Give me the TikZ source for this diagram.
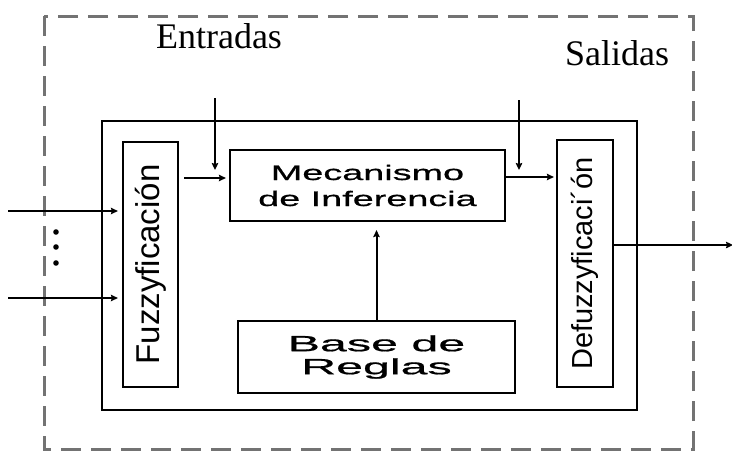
\documentclass[tikz,border=0pt]{standalone}
\usepackage{fontspec}
\usepackage{xcolor}
\usepackage{tikz}
\usetikzlibrary{positioning, arrows.meta}
\setmainfont{Liberation Serif}
\setsansfont{Liberation Sans}
\newfontfamily\wideA[FakeStretch=1.8, FakeBold=0.8]{Liberation Sans}
\newfontfamily\wideB[FakeStretch=2.2, FakeBold=0.8]{Liberation Sans}
\definecolor{dashgray}{gray}{0.45}

\begin{document}
\begin{tikzpicture}[x=1pt, y=-1pt, >={Stealth[length=7pt, width=6.5pt, inset=1pt]}]
            \tikzstyle{block} = [draw=black, line width=2.2pt, inner sep=0pt];
            \tikzstyle{wire} = [line width=2pt];
            \tikzstyle{heading} = [anchor=base, font=\fontsize{36}{40}\selectfont];
            \useasboundingbox (0,0) rectangle (732,451);

            \draw [dashgray, line width=3pt, dash pattern=on 20pt off 10pt] (44,16) rectangle (693,449);
            \draw [line width=2.2pt] (102,121) rectangle (637,410);

            \node [heading] (E) at (219,48) {Entradas};
            \node [heading] (S) at (617,65) {Salidas};

            \node [block, minimum width=55pt, minimum height=245pt] (fuzz) at (150.5,264.5) {};
            \node [rotate=90, font=\sffamily\fontsize{33}{36}\selectfont] (fuzzT) at (fuzz) {Fuzzyficación};

            \node [block, minimum width=275pt, minimum height=71pt, align=center,
                   font=\wideA\fontsize{21}{26}\selectfont] (inf) at (367.5,185.5) {Mecanismo\\de Inferencia};

            \node [block, minimum width=56pt, minimum height=247pt] (defuzz) at (585,263.5) {};
            \node [rotate=90, font=\sffamily\fontsize{29}{32}\selectfont] (defuzzT) at (defuzz) {Defuzzyficaci´ón};

            \node [block, minimum width=277pt, minimum height=72pt, align=center,
                   font=\wideB\fontsize{22}{23}\selectfont] (rules) at (376.5,357) {Base de\\Reglas};

            \coordinate (in1) at (8,211);
            \coordinate (in2) at (8,298);
            \coordinate (inA) at (215,98);
            \coordinate (inB) at (519,100);
            \coordinate (fi) at ([yshift=7.5pt]inf.west);
            \coordinate (md) at ([yshift=8.5pt]inf.east);
            \coordinate (out) at (733,245);

            \draw [wire, ->, shorten >=4pt] (in1) to (in1 -| fuzz.west);
            \draw [wire, ->, shorten >=4pt] (in2) to (in2 -| fuzz.west);
            \foreach \y in {232,247,263}
                \fill (56,\y) circle (2.8pt);

            \draw [wire, ->, shorten <=5pt, shorten >=3pt] (fuzz.east |- fi) to (fi);
            \draw [wire, ->, shorten >=8pt] (inA) to (inA |- fi);
            \draw [wire, ->, shorten >=2pt] (md) to (md -| defuzz.west);
            \draw [wire, ->, shorten >=7pt] (inB) to (inB |- md);
            \draw [wire, ->, shorten >=8pt] (rules.north) to (rules.north |- inf.south);
            \draw [wire, ->] (defuzz.east |- out) to (out);
\end{tikzpicture}
\end{document}
